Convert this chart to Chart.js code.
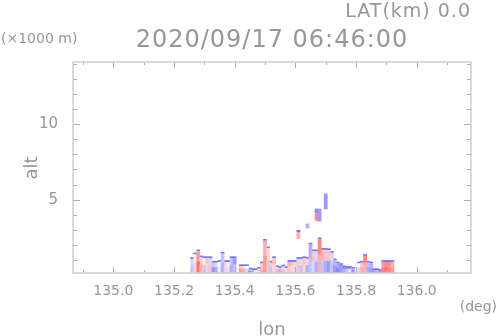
<!DOCTYPE html>
<html><head><meta charset="utf-8">
<script src="https://cdn.jsdelivr.net/npm/chart.js@4"></script>
<style>html,body{margin:0;padding:0;background:#fff}canvas{display:block}</style>
</head><body>
<canvas id="c" width="498" height="336"></canvas>
<script>
// ---- data ----
const lonCols = [135.26,135.27,135.28,135.29,135.30,135.31,135.32,135.33,135.34,135.35,
  135.36,135.37,135.38,135.39,135.40,135.41,135.42,135.43,135.44,135.45,
  135.46,135.47,135.48,135.49,135.50,135.51,135.52,135.53,135.54,135.55,
  135.56,135.57,135.58,135.59,135.60,135.61,135.62,135.63,135.64,135.65,
  135.66,135.67,135.68,135.69,135.70,135.71,135.72,135.73,135.74,135.75,
  135.76,135.77,135.78,135.79,135.80,135.81,135.82,135.83,135.84,135.85,
  135.86,135.87,135.88,135.89,135.90,135.91,135.92];
// echo top altitude of each column (x1000 m)
const topAlt = [1.2,1.5,1.7,1.3,1.25,1.25,1.25,0.95,0.95,1.0,
  1.55,1.0,1.0,1.25,1.25,0,0.72,0.72,0.72,0.5,
  0.46,0.46,0.55,0.9,2.4,1.9,0.95,1.25,0.65,0.6,
  0.7,0.6,1.0,1.0,1.0,1.2,1.2,1.25,1.2,2.15,
  1.7,1.7,2.5,1.8,1.8,1.78,1.6,1.1,0.9,0.8,
  0.65,0.6,0.6,0.55,0,0.9,0.95,1.4,0.95,0.9,
  0.46,0.46,0.4,1.0,1.0,1.0,1.0];
// value in lower / upper part of each column (+ red, - blue)
const valLow = [-0.3,0.2,0.7,0.4,0.3,-0.2,0.3,-0.5,-0.4,0.1,
  -0.4,-0.2,0.2,-0.4,-0.3,0,0.5,0.4,-0.2,-0.5,
  -0.4,0.1,-0.2,0.4,0.5,0.3,-0.3,0.2,-0.3,0.5,
  0.3,-0.2,0.3,0.2,-0.2,0.3,-0.3,0.2,-0.4,-0.3,
  -0.2,-0.4,0.4,-0.3,-0.4,-0.5,-0.3,-0.5,-0.6,-0.5,
  -0.4,-0.3,0.1,-0.5,0,-0.2,0.4,0.4,-0.4,-0.5,
  -0.5,-0.4,-0.5,0.6,0.7,0.6,0.5];
const valHigh = [-0.2,0.1,0.5,0.2,0.1,0.3,-0.2,-0.3,-0.2,0,
  -0.3,0.2,0.1,-0.3,-0.5,0,0.3,0.2,0,-0.3,
  -0.2,-0.3,0.1,0.3,0.4,0.2,-0.2,0.3,0.2,0.3,
  -0.2,0.2,0.4,0.3,0.2,-0.2,0.2,0.3,0.2,-0.4,
  0.3,-0.2,0.6,0.4,0.3,0.3,-0.2,-0.4,-0.4,-0.5,
  -0.6,-0.5,-0.4,-0.4,0,0,0.3,0.6,-0.3,-0.4,
  -0.5,-0.5,-0.4,0.5,0.6,0.6,0.4];
// isolated echo cells aloft
const cellLon  = [135.61,135.61,135.64,135.67,135.67,135.68,135.70];
const cellBot  = [2.40,2.85,3.10,3.60,4.10,3.55,4.35];
const cellTop  = [2.85,3.00,3.42,4.10,4.40,4.40,5.40];
const cellVal  = [0.4,-0.7,-0.4,0.6,-0.6,-0.5,-0.5];

const xTickValues = [135.0,135.2,135.4,135.6,135.8,136.0];
const xTickLabels = ['135.0','135.2','135.4','135.6','135.8','136.0'];
const yTickValues = [5,10];
const yTickLabels = ['5','10'];

const X_MIN = 134.867, X_MAX = 136.179, Y_MIN = 0.15, Y_MAX = 14.1;
const RIM = 0.12;

function colorOf(v){
  const a = Math.round(255 - 200*Math.min(1,Math.abs(v)));
  return v >= 0 ? `rgb(255,${a},${a})` : `rgb(${a},${a},255)`;
}

const lowData=[], highData=[], rimData=[], lowCol=[], highCol=[];
lonCols.forEach((lon,i)=>{
  const t = topAlt[i];
  if (t <= 0) return;
  const mid = Y_MIN + (t - Y_MIN)*0.5;
  lowData.push({x:lon, y:[Y_MIN, mid]}); lowCol.push(colorOf(valLow[i]));
  highData.push({x:lon, y:[mid, Math.max(mid, t-RIM)]}); highCol.push(colorOf(valHigh[i]));
  rimData.push({x:lon, y:[Math.max(Y_MIN,t-RIM), t]});
});
const cellData = cellLon.map((lon,i)=>({x:lon, y:[cellBot[i], cellTop[i]]}));
const cellCol = cellVal.map(colorOf);

const TXT = '#979797';
const deco = {
  id:'deco',
  afterDraw(chart){
    const {ctx, chartArea:a, scales:{x, y}} = chart;
    ctx.save();
    // ticks (inward)
    ctx.strokeStyle = '#b0b0b0'; ctx.lineWidth = 1;
    ctx.beginPath();
    for (let k = 1349; k <= 1361; k++){
      const v = k/10; const px = Math.round(x.getPixelForValue(v)) + 0.5;
      if (px < a.left || px > a.right) continue;
      const L = (k % 2 === 0) ? 6 : 3;
      ctx.moveTo(px, a.bottom); ctx.lineTo(px, a.bottom - L);
      ctx.moveTo(px, a.top); ctx.lineTo(px, a.top + L);
    }
    for (let v = 1; v <= 14; v++){
      const py = Math.round(y.getPixelForValue(v)) + 0.5;
      if (py < a.top || py > a.bottom) continue;
      const L = (v % 5 === 0) ? 7 : 4;
      ctx.moveTo(a.left, py); ctx.lineTo(a.left + L, py);
      ctx.moveTo(a.right, py); ctx.lineTo(a.right - L, py);
    }
    ctx.stroke();
    // frame
    ctx.strokeStyle = '#cdcdcd'; ctx.lineWidth = 1.5;
    ctx.strokeRect(a.left, a.top, a.right - a.left, a.bottom - a.top);
    // texts
    ctx.fillStyle = TXT;
    ctx.textBaseline = 'alphabetic';
    ctx.letterSpacing = '1px';
    ctx.font = '24px "DejaVu Sans"'; ctx.textAlign = 'center';
    ctx.fillText('2020/09/17 06:46:00', 272, 47);
    ctx.font = '19px "DejaVu Sans"'; ctx.textAlign = 'right';
    ctx.fillText('LAT(km) 0.0', 471, 17);
    ctx.letterSpacing = '0px';
    ctx.font = '14px "DejaVu Sans"'; ctx.textAlign = 'left';
    ctx.fillText('(\u00d71000 m)', 1, 43);
    ctx.textAlign = 'right';
    ctx.fillText('(deg)', 497, 311);
    ctx.font = '18px "DejaVu Sans"'; ctx.textAlign = 'center';
    ctx.fillText('lon', 272, 335);
    ctx.translate(37, 168); ctx.rotate(-Math.PI/2);
    ctx.fillText('alt', 0, 0);
    ctx.restore();
  }
};

const common = {grouped:false, barPercentage:1.25, categoryPercentage:1, borderWidth:0, inflateAmount:0};
new Chart(document.getElementById('c'), {
  type:'bar',
  data:{datasets:[
    Object.assign({data:lowData, backgroundColor:lowCol}, common),
    Object.assign({data:highData, backgroundColor:highCol}, common),
    Object.assign({data:rimData, backgroundColor:'rgb(115,115,255)'}, common),
    Object.assign({data:cellData, backgroundColor:cellCol}, common)
  ]},
  options:{
    responsive:false, animation:false,
    layout:{padding:{top:62, right:27, left:0, bottom:0}},
    plugins:{legend:{display:false}, tooltip:{enabled:false}},
    scales:{
      x:{type:'linear', min:X_MIN, max:X_MAX, offset:false,
        grid:{display:false}, border:{display:false},
        afterBuildTicks:s=>{ s.ticks = xTickValues.map(v=>({value:v})); },
        afterFit:s=>{ s.height = 63; },
        ticks:{autoSkip:false, maxRotation:0, padding:2, color:TXT,
          font:{family:'DejaVu Sans', size:14},
          callback:(v,i)=>xTickLabels[i]}},
      y:{type:'linear', min:Y_MIN, max:Y_MAX,
        grid:{display:false}, border:{display:false},
        afterBuildTicks:s=>{ s.ticks = yTickValues.map(v=>({value:v})); },
        afterFit:s=>{ s.width = 73; },
        ticks:{autoSkip:false, padding:7, color:TXT,
          font:{family:'DejaVu Sans', size:15},
          callback:(v,i)=>yTickLabels[i]}}
    }
  },
  plugins:[deco]
});
</script></body></html>
